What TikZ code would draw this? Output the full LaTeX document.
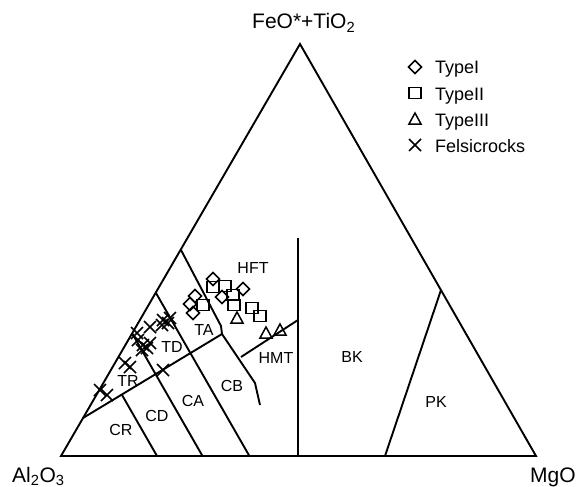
\documentclass[tikz,border=0pt]{standalone}
\usepackage{fontspec}
\setmainfont{Liberation Sans}
\begin{document}
\begin{tikzpicture}[x=1pt,y=-1pt,line join=miter]
\tikzset{
 bnd/.style={line width=1.9pt},
 mk/.style={line width=1.5pt},
 lab/.style={font=\fontsize{16}{18}\selectfont, inner sep=0pt},
 ax/.style={font=\fontsize{21}{24}\selectfont, inner sep=0pt, anchor=base west},
 leg/.style={font=\fontsize{18}{20}\selectfont, inner sep=0pt, anchor=base west},
 dia/.pic={\draw[mk] (0,-6.5) -- (6.5,0) -- (0,6.5) -- (-6.5,0) -- cycle;},
 sqr/.pic={\draw[mk] (-6,-5.5) rectangle (6,5.5);},
 tri/.pic={\draw[mk] (0,-6) -- (6,5) -- (-6,5) -- cycle;},
 crs/.pic={\draw[mk] (-6,-6) -- (6,6) (-6,6) -- (6,-6);},
}
\useasboundingbox (0,0) rectangle (578,487);
% corners
\coordinate (Al) at (61,456);
\coordinate (Mg) at (536,456);
\coordinate (Fe) at (300,44);
\draw[bnd] (Al) -- (Mg) -- (Fe) -- cycle;
% internal boundaries
\coordinate (v1) at (298,238); \coordinate (v2) at (298,456);
\draw[bnd] (v1) -- (v2);
\coordinate (t1) at (83,418); \coordinate (tc) at (222,334);
\draw[bnd] (t1) -- (tc);
\coordinate (a1) at (132,333); \coordinate (a2) at (155.6,374.2);
\draw[bnd] (a1) -- (a2);
\coordinate (b1) at (156,293); \coordinate (b2) at (190.4,353.1);
\draw[bnd] (b1) -- (b2);
\coordinate (c1) at (181,250); \coordinate (c2) at (221,326);
\draw[bnd] (c1) -- (c2) -- (tc);
\coordinate (d1) at (121.8,394.6); \coordinate (d2) at (157,456);
\draw[bnd] (d1) -- (d2);
\coordinate (e2) at (202.5,456);
\draw[bnd] (a2) -- (e2);
\coordinate (f2) at (249.4,456);
\draw[bnd] (b2) -- (f2);
\coordinate (g1) at (255,383); \coordinate (g2) at (260,405);
\draw[bnd] (tc) -- (g1) -- (g2);
\coordinate (h1) at (241,357); \coordinate (h2) at (298,320);
\draw[bnd] (h1) -- (h2);
\coordinate (p1) at (441,290); \coordinate (p2) at (385,456);
\draw[bnd] (p1) -- (p2);
% region labels
\node[lab] (HFT) at (253,268) {HFT};
\node[lab] (TA) at (204,330) {TA};
\node[lab] (TD) at (172,347) {TD};
\node[lab] (TR) at (128,381) {TR};
\node[lab] (CR) at (121,430) {CR};
\node[lab] (CD) at (157,416) {CD};
\node[lab] (CA) at (193,401) {CA};
\node[lab] (CB) at (232,386) {CB};
\node[lab] (HMT) at (276,358) {HMT};
\node[lab] (BK) at (352,357) {BK};
\node[lab] (PK) at (436,402) {PK};
% axis labels
\node[ax] (lFe) at (252,29) {FeO*+TiO\textsubscript{2}};
\node[ax] (lAl) at (12,482) {Al\textsubscript{2}O\textsubscript{3}};
\node[ax] (lMg) at (530,482) {MgO};
% legend
\pic at (415,67) {dia};
\node[leg] (L1) at (435,74) {TypeI};
\pic at (415,93) {sqr};
\node[leg] (L2) at (435,100) {TypeII};
\pic at (415,119) {tri};
\node[leg] (L3) at (435,126) {TypeIII};
\pic at (415,145) {crs};
\node[leg] (L4) at (435,152) {Felsicrocks};
% Type I
\foreach \p in {(213,279),(243,289),(195,296),(190,304),(193,313),(222,297)} \pic at \p {dia};
% Type II
\foreach \p in {(213,287),(225,286),(233,295),(203,305),(234,305),(252,308),(260,316)} \pic at \p {sqr};
% Type III
\foreach \p in {(237,318),(266,333),(280,330)} \pic at \p {tri};
% felsic
\foreach \p in {(100,390),(107,395),(125,363),(130,367),(138,340),(143,345),(147,348),(142,350),(137,333),(150,327),(162,325),(168,323),(163,370),(150,343),(163,320),(170,318)} \pic at \p {crs};
\end{tikzpicture}
\end{document}
